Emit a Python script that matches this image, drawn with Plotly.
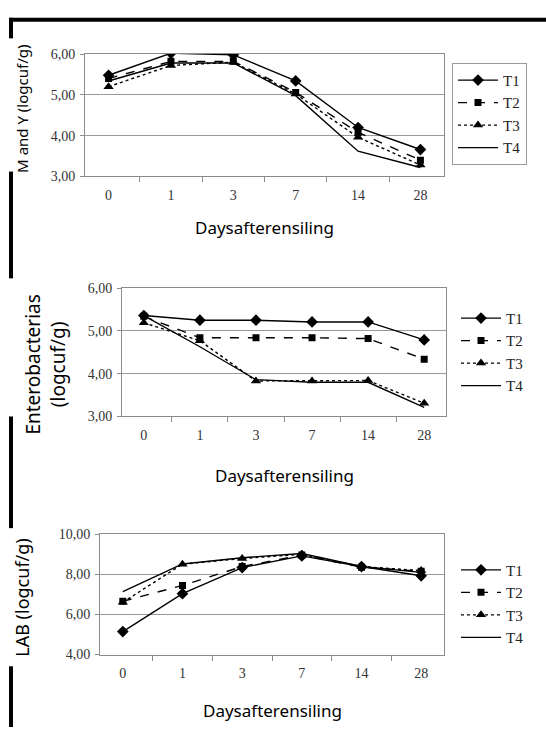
import plotly.graph_objects as go

days = ["0", "1", "3", "7", "14", "28"]
series_names = ["T1", "T2", "T3", "T4"]

# M and Y (logcuf/g)
my_t1 = [5.48, 6.02, 5.98, 5.34, 4.20, 3.66]
my_t2 = [5.40, 5.82, 5.82, 5.06, 4.08, 3.40]
my_t3 = [5.20, 5.72, 5.80, 5.02, 3.96, 3.28]
my_t4 = [5.34, 5.78, 5.78, 4.98, 3.62, 3.22]

# Enterobacterias (logcuf/g)
ent_t1 = [5.36, 5.25, 5.25, 5.21, 5.21, 4.79]
ent_t2 = [5.34, 4.84, 4.84, 4.84, 4.82, 4.34]
ent_t3 = [5.19, 4.77, 3.83, 3.83, 3.84, 3.31]
ent_t4 = [5.36, 4.63, 3.86, 3.80, 3.80, 3.21]

# LAB (logcuf/g)
lab_t1 = [5.14, 7.03, 8.33, 8.91, 8.38, 7.92]
lab_t2 = [6.65, 7.44, 8.38, 8.95, 8.35, 8.14]
lab_t3 = [6.60, 8.50, 8.78, 8.99, 8.38, 8.18]
lab_t4 = [7.13, 8.51, 8.82, 9.03, 8.38, 8.09]

my_ticks = [3, 4, 5, 6]
my_ticktext = ["3,00", "4,00", "5,00", "6,00"]
ent_ticks = [3, 4, 5, 6]
ent_ticktext = ["3,00", "4,00", "5,00", "6,00"]
lab_ticks = [4, 6, 8, 10]
lab_ticktext = ["4,00", "6,00", "8,00", "10,00"]

x_title = "Daysafterensiling"
y_titles = ["M and Y (logcuf/g)", "Enterobacterias<br>(logcuf/g)", "LAB (logcuf/g)"]

W, H = 546, 735

def px(x):
    return x / W

def py(y):
    return 1 - y / H

styles = [
    dict(dash="solid", symbol="diamond", size=9, mode="lines+markers"),
    dict(dash="dash", symbol="square", size=7, mode="lines+markers"),
    dict(dash="dot", symbol="triangle-up", size=9, mode="lines+markers"),
    dict(dash="solid", symbol="circle", size=1, mode="lines"),
]

panels = [
    ([my_t1, my_t2, my_t3, my_t4], "", "legend"),
    ([ent_t1, ent_t2, ent_t3, ent_t4], "2", "legend2"),
    ([lab_t1, lab_t2, lab_t3, lab_t4], "3", "legend3"),
]

fig = go.Figure()
for vals, sfx, leg in panels:
    for name, v, st in zip(series_names, vals, styles):
        fig.add_trace(go.Scatter(
            x=days, y=v, name=name, mode=st["mode"],
            xaxis="x" + sfx, yaxis="y" + sfx,
            line=dict(color="black", width=1.4, dash=st["dash"]),
            marker=dict(color="black", symbol=st["symbol"], size=st["size"]),
            legend=leg, legendgroup=leg + name,
        ))

serif = "Liberation Serif, Times New Roman, Times, serif"
tickfont = dict(family=serif, size=14, color="#333333")
axis_common = dict(showline=True, linecolor="#8c8c8c", linewidth=1, mirror=True,
                   tickfont=tickfont, tickcolor="#8c8c8c", fixedrange=True)

# panel plot areas (pixels): x0, x1, y_top, y_bottom
areas = [(85, 444, 48, 173), (122, 446, 287, 418), (100, 444, 538, 661)]
yranges = [[3, 6], [3, 6], [4, 10]]
yticks = [(my_ticks, my_ticktext), (ent_ticks, ent_ticktext), (lab_ticks, lab_ticktext)]

layout = dict(
    width=W, height=H, margin=dict(l=0, r=0, t=0, b=0),
    paper_bgcolor="white", plot_bgcolor="white",
    showlegend=True,
)
for i, ((x0, x1, yt, yb), yr, (tv, tt)) in enumerate(zip(areas, yranges, yticks)):
    sfx = "" if i == 0 else str(i + 1)
    layout["xaxis" + sfx] = dict(
        domain=[px(x0), px(x1)], anchor="y" + sfx, type="category",
        categoryorder="array", categoryarray=days,
        ticks="outside", tickson="boundaries", ticklen=5, ticklabelstandoff=6,
        showgrid=False, **axis_common)
    layout["yaxis" + sfx] = dict(
        domain=[py(yb), py(yt)], anchor="x" + sfx, range=yr,
        tickvals=tv, ticktext=tt, ticks="outside", ticklen=4, ticklabelstandoff=2,
        showgrid=True, gridcolor="#9a9a9a", gridwidth=1, zeroline=False,
        **axis_common)

legfont = dict(family=serif, size=15, color="#222222")
layout["legend"] = dict(x=px(452), y=py(57), xanchor="left", yanchor="top",
                        bgcolor="white", bordercolor="#9a9a9a", borderwidth=1,
                        font=legfont, tracegroupgap=0, itemwidth=40)
layout["legend2"] = dict(x=px(456), y=py(301), xanchor="left", yanchor="top",
                         bgcolor="rgba(0,0,0,0)", borderwidth=0,
                         font=legfont, tracegroupgap=0, itemwidth=40)
layout["legend3"] = dict(x=px(456), y=py(558), xanchor="left", yanchor="top",
                         bgcolor="rgba(0,0,0,0)", borderwidth=0,
                         font=legfont, tracegroupgap=0, itemwidth=40)

titlefont = dict(family="Noto Sans", color="black")
annotations = []
xt_y = [225, 478, 718]
for (x0, x1, yt, yb), yy in zip(areas, xt_y):
    annotations.append(dict(text=x_title, x=px((x0 + x1) / 2), y=py(yy),
                            xref="paper", yref="paper", showarrow=False,
                            xanchor="center", yanchor="middle",
                            font=dict(size=17, **titlefont)))
yt_pos = [(22, 104, 15), (46, 365, 19), (22, 603, 18)]
for txt, (xx, yy, fs) in zip(y_titles, yt_pos):
    annotations.append(dict(text=txt, x=px(xx), y=py(yy), xref="paper", yref="paper",
                            showarrow=False, textangle=-90, xanchor="center",
                            yanchor="middle", font=dict(size=fs, **titlefont)))
layout["annotations"] = annotations

# outer frame: thick top line and left line with gaps behind the y titles
shapes = [dict(type="line", xref="paper", yref="paper", x0=px(9), x1=1,
               y0=py(13), y1=py(13), line=dict(color="black", width=4))]
for a, b in [(11, 32), (168, 277), (418, 532), (673, 735)]:
    shapes.append(dict(type="line", xref="paper", yref="paper", x0=px(11), x1=px(11),
                       y0=py(a), y1=py(b), line=dict(color="black", width=4)))
layout["shapes"] = shapes

fig.update_layout(**layout)
fig.write_html("out.html", config={"displayModeBar": False},
               post_script="document.body.style.margin='0';document.body.style.overflow='hidden';")
